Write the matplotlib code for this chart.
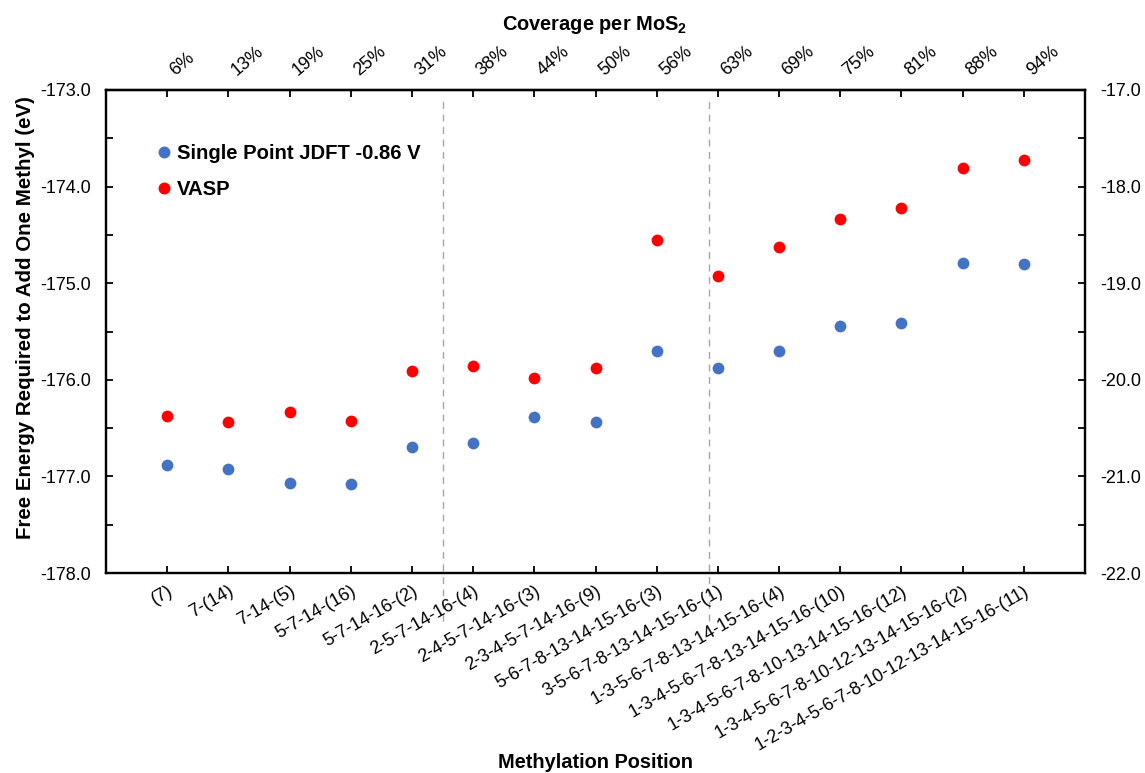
import matplotlib
matplotlib.use('Agg')
import matplotlib.pyplot as plt
from matplotlib.ticker import MultipleLocator, FormatStrFormatter
from matplotlib.lines import Line2D

plt.rcParams['font.family'] = ['Liberation Sans', 'DejaVu Sans']

# data
positions = ['(7)', '7-(14)', '7-14-(5)', '5-7-14-(16)', '5-7-14-16-(2)',
             '2-5-7-14-16-(4)', '2-4-5-7-14-16-(3)', '2-3-4-5-7-14-16-(9)',
             '5-6-7-8-13-14-15-16-(3)', '3-5-6-7-8-13-14-15-16-(1)',
             '1-3-5-6-7-8-13-14-15-16-(4)', '1-3-4-5-6-7-8-13-14-15-16-(10)',
             '1-3-4-5-6-7-8-10-13-14-15-16-(12)',
             '1-3-4-5-6-7-8-10-12-13-14-15-16-(2)',
             '1-2-3-4-5-6-7-8-10-12-13-14-15-16-(11)']
coverage = ['6%', '13%', '19%', '25%', '31%', '38%', '44%', '50%',
            '56%', '63%', '69%', '75%', '81%', '88%', '94%']
jdft = [-176.88, -176.92, -177.07, -177.08, -176.70, -176.65, -176.39, -176.44,
        -175.70, -175.88, -175.70, -175.44, -175.41, -174.79, -174.80]
vasp = [-20.37, -20.44, -20.33, -20.43, -19.91, -19.86, -19.98, -19.88,
        -18.55, -18.93, -18.63, -18.34, -18.22, -17.81, -17.72]
divider_x = [5.5, 9.85]

BLUE = '#4472C4'
RED = '#FF0000'

fig = plt.figure(figsize=(11.45, 7.73), dpi=100)
ax = fig.add_axes([0.0926, 0.2587, 0.855, 0.6249])
ax2 = ax.twinx()

x = list(range(1, len(positions) + 1))
ax.scatter(x, jdft, s=72, color=BLUE, zorder=3, linewidths=0)
ax2.scatter(x, vasp, s=72, color=RED, zorder=3, linewidths=0)

ax.set_xlim(0, 16)
ax.set_ylim(-178, -173)
ax2.set_ylim(-22, -17)

for a in (ax, ax2):
    a.yaxis.set_major_locator(MultipleLocator(1))
    a.yaxis.set_minor_locator(MultipleLocator(0.5))
    a.yaxis.set_major_formatter(FormatStrFormatter('%.1f'))
    a.tick_params(axis='y', which='both', direction='in', length=5, width=1.3,
                  labelsize=13, pad=11)
    for sp in a.spines.values():
        sp.set_linewidth(1.6)

ax.set_xticks(x)
ax.set_xticklabels(positions, rotation=30, ha='right', va='top',
                   rotation_mode='anchor', fontsize=13)
ax.tick_params(axis='x', direction='in', length=5, width=1.3, pad=7)

top = ax.secondary_xaxis('top')
top.set_xticks(x)
top.set_xticklabels(coverage, rotation=40, ha='left', va='bottom',
                    fontsize=13)
top.tick_params(axis='x', direction='in', length=5, width=1.3, pad=8)
top.spines['top'].set_linewidth(1.6)

for xd in divider_x:
    ax.axvline(xd, ymin=-0.1, ymax=0.98, color='#A6A6A6', lw=1.0,
               ls=(0, (5, 4)), clip_on=False, zorder=1)

fig.text(0.0227, 0.589, 'Free Energy Required to Add One Methyl (eV)',
         rotation=90, ha='center', va='center', fontsize=14.8,
         fontweight='bold')
fig.text(0.52, 0.0142, 'Methylation Position', ha='center', va='center',
         fontsize=14.4, fontweight='bold')
fig.text(0.519, 0.968, 'Coverage per MoS$_\\mathregular{2}$', ha='center',
         va='center', fontsize=14.4, fontweight='bold')

handles = [Line2D([], [], ls='', marker='o', ms=8.6, color=BLUE, mew=0),
           Line2D([], [], ls='', marker='o', ms=8.6, color=RED, mew=0)]
ax2.legend(handles, ['Single Point JDFT -0.86 V', 'VASP'],
           loc='upper left', bbox_to_anchor=(0.039, 0.905), frameon=False,
           prop={'weight': 'bold', 'size': 14.6}, handletextpad=0.0,
           handlelength=1.2, labelspacing=0.86, borderaxespad=0)

fig.savefig('out.png', dpi=100, facecolor='white')
